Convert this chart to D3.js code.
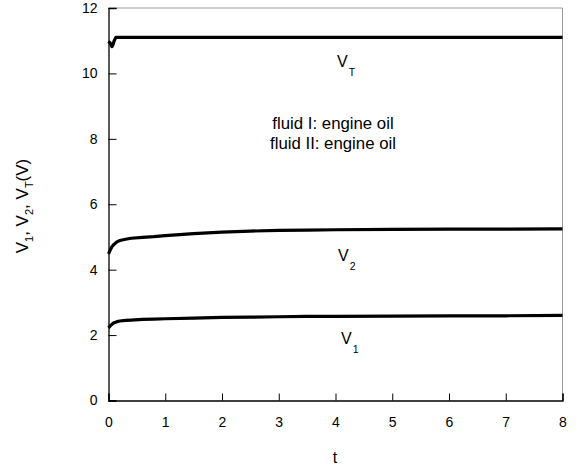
<!DOCTYPE html>
<html>
<head>
<meta charset="utf-8">
<script src="https://cdn.jsdelivr.net/npm/d3@7/dist/d3.min.js"></script>
<style>
  html, body { margin: 0; padding: 0; background: #fff; }
  svg { display: block; font-family: "Liberation Sans", Arial, sans-serif; }
</style>
</head>
<body>
<svg id="chart" width="576" height="471"></svg>
<script>
// Measured signals over time t
const tSeries = [0, 0.03, 0.06, 0.1, 0.15, 0.2, 0.3, 0.4, 0.6, 0.8, 1, 1.5, 2, 2.5, 3, 3.5, 4, 5, 6, 7, 8];
const v1 = [2.22, 2.28, 2.33, 2.38, 2.41, 2.43, 2.45, 2.46, 2.48, 2.49, 2.5, 2.52, 2.54, 2.55, 2.56, 2.57, 2.57, 2.58, 2.59, 2.59, 2.6];
const v2 = [4.48, 4.6, 4.7, 4.78, 4.85, 4.89, 4.93, 4.96, 4.99, 5.01, 5.04, 5.1, 5.15, 5.18, 5.2, 5.21, 5.22, 5.23, 5.24, 5.24, 5.25];
const tVT = [0, 0.03, 0.06, 0.08, 0.1, 0.13, 0.2, 0.5, 1, 2, 3, 4, 5, 5.6, 6, 7, 7.2, 8];
const vT = [10.98, 10.93, 10.82, 10.88, 11.0, 11.1, 11.1, 11.1, 11.1, 11.1, 11.1, 11.1, 11.1, 11.1, 11.1, 11.1, 11.1, 11.1];

const xTicks = [0, 1, 2, 3, 4, 5, 6, 7, 8];
const yTicks = [0, 2, 4, 6, 8, 10, 12];
const noteLines = ["fluid I: engine oil", "fluid II: engine oil"];

const svg = d3.select("#chart");
const plotL = 108.5, plotR = 562.5, plotT = 8, plotB = 400.5;

const x = d3.scaleLinear().domain([0, 8]).range([plotL, plotR]);
const y = d3.scaleLinear().domain([0, 12]).range([plotB, plotT]);

// frame: light top/right edges
svg.append("line").attr("x1", plotL).attr("x2", plotR).attr("y1", plotT).attr("y2", plotT)
  .attr("stroke", "#999").attr("stroke-width", 1);
svg.append("line").attr("x1", plotR).attr("x2", plotR).attr("y1", plotT).attr("y2", plotB)
  .attr("stroke", "#999").attr("stroke-width", 1);

// bottom axis with inward ticks
const xAxis = svg.append("g").attr("transform", `translate(0,${plotB})`)
  .call(d3.axisBottom(x).tickValues(xTicks).tickSize(-7).tickPadding(17).tickFormat(d3.format("d")));
// left axis with inward ticks
const yAxis = svg.append("g").attr("transform", `translate(${plotL},0)`)
  .call(d3.axisLeft(y).tickValues(yTicks).tickSize(-8).tickPadding(11).tickFormat(d3.format("d")));

[xAxis, yAxis].forEach(g => {
  g.select(".domain").attr("stroke", "#000").attr("stroke-width", 1.3);
  g.selectAll(".tick line").attr("stroke", "#000").attr("stroke-width", 1);
  g.selectAll(".tick text").attr("font-size", 14).attr("fill", "#000")
    .attr("font-family", "Liberation Sans, Arial, sans-serif");
});
xAxis.selectAll(".tick text").attr("dy", "0.71em").attr("y", 17);

// data curves
const line = d3.line().x(d => x(d[0])).y(d => y(d[1]));
const series = [
  d3.zip(tSeries, v1),
  d3.zip(tSeries, v2),
  d3.zip(tVT, vT)
];
svg.append("g").selectAll("path").data(series).join("path")
  .attr("d", line)
  .attr("fill", "none")
  .attr("stroke", "#000")
  .attr("stroke-width", 3.2)
  .attr("stroke-linejoin", "round");

// curve labels with subscripts
function subLabel(px, py, main, sub) {
  const t = svg.append("text").attr("x", px).attr("y", py)
    .attr("font-size", 16).attr("fill", "#000");
  t.append("tspan").text(main);
  t.append("tspan").attr("font-size", 10.5).attr("dy", 9).attr("dx", 1).text(sub);
}
subLabel(337, 67, "V", "T");
subLabel(338, 261, "V", "2");
subLabel(341, 344, "V", "1");

// annotation
svg.append("g").selectAll("text").data(noteLines).join("text")
  .attr("x", 333).attr("y", (d, i) => 129 + i * 20)
  .attr("text-anchor", "middle")
  .attr("font-size", 16.8)
  .attr("fill", "#000")
  .text(d => d);

// axis titles
svg.append("text").attr("x", 335).attr("y", 463).attr("text-anchor", "middle")
  .attr("font-size", 16).attr("fill", "#000").text("t");

const yt = svg.append("text")
  .attr("transform", "translate(28,206) rotate(-90)")
  .attr("text-anchor", "middle")
  .attr("font-size", 17).attr("fill", "#000");
yt.append("tspan").text("V");
yt.append("tspan").attr("font-size", 11).attr("dy", 5).text("1");
yt.append("tspan").attr("dy", -5).text(",  V");
yt.append("tspan").attr("font-size", 11).attr("dy", 5).text("2");
yt.append("tspan").attr("dy", -5).text(",  V");
yt.append("tspan").attr("font-size", 11).attr("dy", 5).text("T");
yt.append("tspan").attr("dy", -5).text("(V)");
</script>
</body>
</html>
